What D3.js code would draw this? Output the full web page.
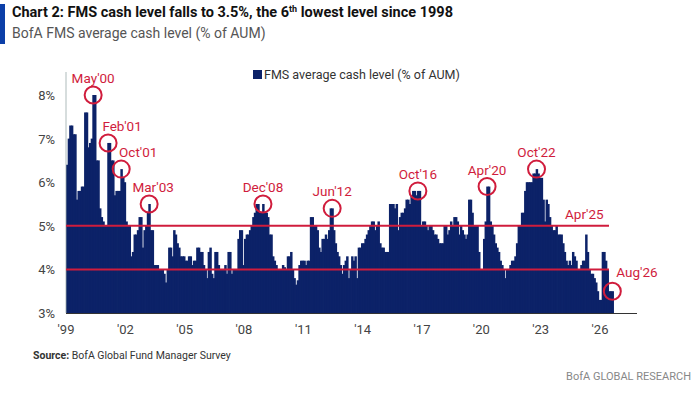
<!DOCTYPE html><html><head><meta charset="utf-8">
<script src="https://cdn.jsdelivr.net/npm/d3@7"></script>
<style>body{margin:0;background:#fff}svg{font-family:"Roboto","Liberation Sans",sans-serif}</style>
</head><body><svg id="c" width="697" height="400"></svg>
<script>
const startYear = 1999;
const cashLevel = [
6.4,7.0,7.3,7.3,7.1,7.1,5.6,5.8,5.8,5.9,5.9,7.6,
7.6,6.8,6.9,7.0,8.0,8.0,6.5,6.5,5.4,5.2,5.1,5.0,
5.0,6.9,6.9,6.5,6.5,5.7,5.8,5.8,5.8,6.3,6.1,6.0,
5.1,5.0,5.0,4.3,4.4,4.8,4.8,4.9,5.2,5.2,4.5,4.9,
5.0,5.3,5.5,4.9,4.9,4.1,4.1,4.1,4.0,4.0,4.0,3.9,
3.7,4.0,4.5,4.5,4.3,4.9,4.8,4.6,4.5,4.3,4.3,4.3,
4.2,4.2,4.3,4.3,4.1,4.2,4.2,4.5,4.5,4.4,4.4,4.1,
4.0,3.8,4.4,4.5,3.9,3.8,4.4,4.4,4.1,4.0,4.0,4.0,
4.1,3.9,4.4,4.4,3.9,4.0,4.0,4.0,4.7,4.9,4.9,4.1,
4.7,4.8,4.8,4.9,5.0,5.2,5.3,5.5,5.5,5.3,5.3,5.5,
5.3,5.3,5.2,4.8,4.8,4.3,4.2,4.1,4.0,4.0,4.0,4.1,
4.05,4.0,4.3,4.3,4.4,4.0,3.8,3.65,3.75,4.1,4.2,4.2,
4.2,4.1,4.2,4.2,5.2,5.2,5.0,5.0,4.9,4.5,4.4,4.7,
4.7,4.8,4.7,4.9,5.4,5.4,4.9,4.6,4.4,4.3,4.1,3.9,
4.1,4.2,4.3,3.8,4.0,4.3,4.2,4.3,3.8,4.5,4.5,4.6,
4.6,4.7,4.8,4.9,5.0,5.1,5.1,4.9,5.0,5.1,4.6,4.5,
4.5,4.4,4.4,4.4,5.5,5.5,5.5,5.4,5.5,4.9,5.2,5.3,
5.3,5.4,5.6,5.6,5.5,5.7,5.8,5.8,5.7,5.8,5.8,5.0,
5.1,5.1,5.0,4.9,5.0,5.0,4.9,4.8,4.8,4.7,4.6,4.6,
4.6,5.0,5.0,4.8,4.9,5.1,5.0,5.2,5.2,5.1,4.8,5.0,
4.9,4.8,4.7,4.8,5.6,5.6,5.3,5.0,5.0,5.0,4.4,4.0,
4.0,4.7,5.1,5.9,5.9,5.1,5.0,4.8,4.6,4.5,4.4,4.2,
4.1,4.0,3.8,4.0,4.0,4.1,4.2,4.2,4.3,4.6,5.0,5.0,
5.3,5.3,5.8,6.0,6.0,6.0,6.0,6.2,6.2,6.3,6.2,6.1,
6.1,5.6,5.1,5.6,5.5,5.2,5.0,4.9,4.9,5.0,4.8,4.8,
4.8,4.6,4.4,4.2,4.1,4.2,4.1,4.4,4.3,4.2,4.0,4.0,
4.1,4.2,4.2,4.8,4.4,4.0,3.9,3.9,3.8,3.7,3.5,3.3,
3.3,4.4,4.4,4.2,4.0,3.5,3.5,3.5];
const yTicks = [3,4,5,6,7,8];
const xTickYears = [1999,2002,2005,2008,2011,2014,2017,2020,2023,2026];
const refLines = [4,5];
const annotations = [
 {label:"May'00", y:2000, m:4, dx:0},{label:"Feb'01", y:2001, m:1, dx:14},{label:"Oct'01", y:2001, m:9, dx:17},
 {label:"Mar'03", y:2003, m:2, dx:4},{label:"Dec'08", y:2008, m:11, dx:0},{label:"Jun'12", y:2012, m:5, dx:0},
 {label:"Oct'16", y:2016, m:9, dx:0},{label:"Apr'20", y:2020, m:3, dx:0},{label:"Oct'22", y:2022, m:9, dx:0},
 {label:"Aug'26", y:2026, m:7, side:true}];

const navy="#0c2268", red="#d01c3c";
const svg=d3.select("#c");
const data=cashLevel.map((v,i)=>({d:new Date(startYear+Math.floor(i/12),i%12,1),v}));
const x=d3.scaleTime().domain([new Date(1999,0,1),new Date(2026,0,1)]).range([66,600]);
const y=d3.scaleLinear().domain([3,8]).range([313,95]);
const bw=x(new Date(1999,1,1))-x(new Date(1999,0,1));

svg.append("rect").attr("x",0).attr("y",4).attr("width",5).attr("height",40).attr("fill","#0c3fa8");
const t=svg.append("text").attr("x",12).attr("y",17).attr("font-size",14.5).attr("font-weight","bold").attr("fill","#111");
t.append("tspan").text("Chart 2: FMS cash level falls to 3.5%, the 6");
t.append("tspan").attr("font-size",9).attr("dy",-5).text("th");
t.append("tspan").attr("dy",5).text(" lowest level since 1998");
svg.append("text").attr("x",12).attr("y",38).attr("font-size",14).attr("fill","#555").text("BofA FMS average cash level (% of AUM)");

svg.append("rect").attr("x",253).attr("y",70).attr("width",9).attr("height",9).attr("fill",navy);
svg.append("text").attr("x",264).attr("y",79).attr("font-size",12.5).attr("fill","#333").text("FMS average cash level (% of AUM)");

svg.append("g").selectAll("rect").data(data).join("rect")
 .attr("x",d=>x(d.d)).attr("width",bw+0.8).attr("y",d=>y(d.v)).attr("height",d=>y(3)-y(d.v)).attr("fill",navy);

svg.append("line").attr("x1",66).attr("x2",66).attr("y1",72).attr("y2",313).attr("stroke","#9aa").attr("stroke-width",0.8);
svg.append("line").attr("x1",66).attr("x2",637).attr("y1",313.5).attr("y2",313.5).attr("stroke","#333").attr("stroke-width",1);
svg.append("g").selectAll("text").data(yTicks).join("text").attr("x",55).attr("y",d=>y(d)+5).attr("text-anchor","end")
 .attr("font-size",13).attr("fill","#444").text(d=>d+"%");
svg.append("g").selectAll("text").data(xTickYears).join("text").attr("x",d=>x(new Date(d,0,1))).attr("y",334).attr("text-anchor","middle")
 .attr("font-size",13).attr("fill","#444").text(d=>"'"+String(d).slice(2));

svg.append("g").selectAll("line").data(refLines).join("line").attr("x1",66).attr("x2",609).attr("y1",d=>y(d)).attr("y2",d=>y(d))
 .attr("stroke",red).attr("stroke-width",2);
svg.append("text").attr("x",565).attr("y",y(5)-7).attr("font-size",13.5).attr("fill",red).text("Apr'25");

annotations.forEach(a=>{
  const i=(a.y-startYear)*12+a.m; const cx=x(data[i].d)+bw/2, cy=y(data[i].v);
  svg.append("circle").attr("cx",cx).attr("cy",cy).attr("r",8.5).attr("fill","none").attr("stroke",red).attr("stroke-width",2);
  if(a.side) svg.append("text").attr("x",cx+4).attr("y",cy-14).attr("font-size",13.5).attr("fill",red).text(a.label);
  else svg.append("text").attr("x",cx+a.dx).attr("y",cy-12).attr("text-anchor","middle").attr("font-size",13.5).attr("fill",red).text(a.label);
});

const s=svg.append("text").attr("x",33).attr("y",359).attr("font-size",10.5).attr("fill","#333");
s.append("tspan").attr("font-weight","bold").text("Source:");
s.append("tspan").text(" BofA Global Fund Manager Survey");
svg.append("text").attr("x",691).attr("y",380).attr("text-anchor","end").attr("font-size",11).attr("fill","#888").text("BofA GLOBAL RESEARCH");
</script></body></html>
